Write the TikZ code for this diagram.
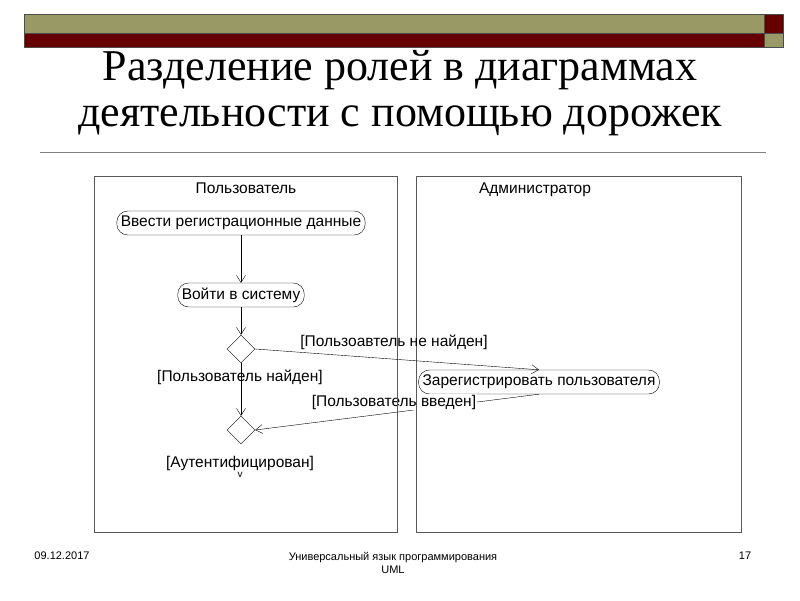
\documentclass[tikz,border=0pt]{standalone}
\usepackage{fontspec}
\setmainfont{Liberation Serif}
\newfontfamily\arialf{Liberation Sans}
\usetikzlibrary{shapes.geometric,arrows.meta}
\definecolor{olive}{HTML}{999966}
\definecolor{dred}{HTML}{660000}
\begin{document}
\begin{tikzpicture}[x=1pt,y=-1pt,
  act/.style={draw,rounded corners=11pt,minimum height=24pt,inner xsep=4pt,font=\arialf\fontsize{15.5}{15.5}\selectfont},
  dia/.style={draw,diamond,minimum size=28pt,inner sep=0pt},
  lbl/.style={font=\arialf\fontsize{15.5}{15.5}\selectfont,inner sep=1pt},
  flow/.style={-{Straight Barb[length=7pt,width=9pt]},thin}]
\useasboundingbox (0,0) rectangle (800,600);
\fill[olive] (24,14) rectangle (764,33);
\fill[dred] (24,33) rectangle (764,47);
\fill[dred] (764,14) rectangle (783,33);
\fill[olive] (764,33) rectangle (783,47);
\draw[gray!60!black] (24,14) rectangle (783,47) (24,33)--(783,33) (764,14)--(764,47);
\node (t1) at (400,70) {\fontsize{44}{44}\selectfont Разделение ролей в диаграммах};
\node (t2) at (400,121) {\fontsize{44}{44}\selectfont деятельности с помощью дорожек};
\draw[gray] (40,152)--(766,152);
\draw[gray!70!black] (94,176) rectangle (397,532);
\draw[gray!70!black] (416,176) rectangle (741,532);
\node[font=\arialf\fontsize{15.5}{15.5}\selectfont] (l1) at (246,188) {Пользователь};
\node[font=\arialf\fontsize{15.5}{15.5}\selectfont] (l2) at (535,190) {Администратор};
\node[act] (a1) at (241,223) {Ввести регистрационные данные};
\node[act] (a2) at (241,295) {Войти в систему};
\node[dia] (d1) at (241,349) {};
\node[dia] (d2) at (241,430) {};
\node[act] (a3) at (539,382) {Зарегистрировать пользователя};
\draw[flow] (a1)--(a2);
\draw[flow] (a2)--(d1);
\draw[flow] (d1.east)--(a3.north);
\draw[flow] (a3.south)--(d2.east);
\draw[flow] (d1.south)--(d2.north);
\node[lbl] (n1) at (394,342) {[Пользоавтель не найден]};
\node[lbl] (n2) at (240,377) {[Пользователь найден]};
\node[lbl,fill=white] (n3) at (394,402) {[Пользователь введен]};
\draw[gray!70!black] (397,392)--(397,412) (416,392)--(416,412);
\node[lbl] (n4) at (240,463) {[Аутентифицирован]};
\node[font=\arialf\fontsize{10}{10}\selectfont] (v) at (240,475) {v};
\node[font=\arialf\fontsize{11}{11}\selectfont] (f1) at (62,556) {09.12.2017};
\node[font=\arialf\fontsize{11}{13}\selectfont,align=center] (f2) at (393,563) {Универсальный  язык  программирования\\UML};
\node[font=\arialf\fontsize{11}{11}\selectfont] (f3) at (745,556) {17};
\end{tikzpicture}
\end{document}
